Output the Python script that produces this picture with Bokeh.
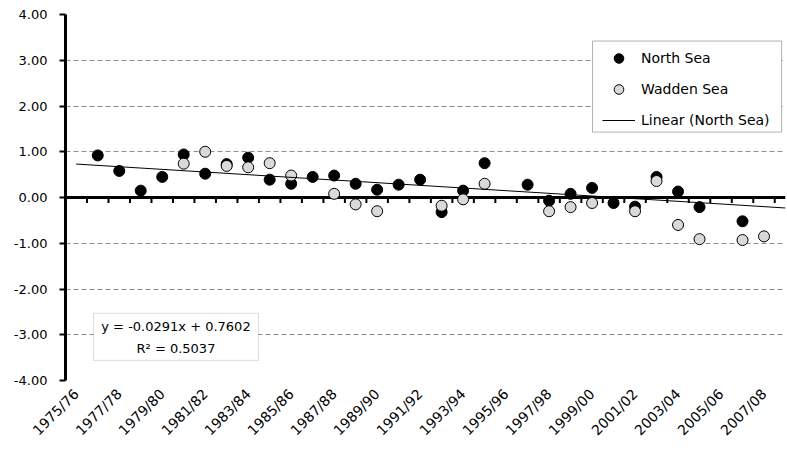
import math
import numpy as np
from bokeh.plotting import figure
from bokeh.models import (Range1d, FixedTicker, NumeralTickFormatter, Span, Legend,
                          LegendItem, BoxAnnotation, Label)
from bokeh.embed import file_html
from bokeh.resources import INLINE

nan = float("nan")

seasons = ["1975/76", "1976/77", "1977/78", "1978/79", "1979/80", "1980/81", "1981/82",
           "1982/83", "1983/84", "1984/85", "1985/86", "1986/87", "1987/88", "1988/89",
           "1989/90", "1990/91", "1991/92", "1992/93", "1993/94", "1994/95", "1995/96",
           "1996/97", "1997/98", "1998/99", "1999/00", "2000/01", "2001/02", "2002/03",
           "2003/04", "2004/05", "2005/06", "2006/07", "2007/08", "2008/09"]

north_sea = [nan, 0.92, 0.58, 0.15, 0.45, 0.94, 0.52, 0.73, 0.87, 0.39, 0.30, 0.45,
             0.48, 0.30, 0.17, 0.28, 0.39, -0.32, 0.15, 0.75, nan, 0.28, -0.07, 0.08,
             0.21, -0.12, -0.20, 0.45, 0.13, -0.21, nan, -0.52, nan, nan]

wadden_sea = [nan, nan, nan, nan, nan, 0.74, 1.00, 0.69, 0.66, 0.75, 0.48, nan,
              0.08, -0.15, -0.30, nan, nan, -0.18, -0.04, 0.30, nan, nan, -0.30, -0.21,
              -0.12, nan, -0.30, 0.36, -0.60, -0.91, nan, -0.93, -0.85, nan]

trend_slope = -0.0291
trend_intercept = 0.7602
r_squared = 0.5037

y_ticks = [-4, -3, -2, -1, 0, 1, 2, 3, 4]

FONT = "DejaVu Sans"

x = list(range(1, len(seasons) + 1))

p = figure(frame_width=720, frame_height=366, output_backend="svg", toolbar_location=None,
           x_range=Range1d(0.5, 34.0), y_range=Range1d(-4, 4),
           min_border_left=65, min_border_top=14, min_border_right=2, min_border_bottom=10)
p.outline_line_color = None
p.background_fill_color = "white"

# y axis
p.yaxis.ticker = FixedTicker(ticks=y_ticks)
p.yaxis.formatter = NumeralTickFormatter(format="0.00")
p.yaxis.axis_line_width = 3
p.yaxis.axis_line_color = "black"
p.yaxis.major_tick_out = 6
p.yaxis.major_tick_in = 0
p.yaxis.major_tick_line_width = 2
p.yaxis.major_tick_line_color = "black"
p.yaxis.minor_tick_line_color = None
p.yaxis.major_label_standoff = 12
p.yaxis.major_label_text_font = FONT
p.yaxis.major_label_text_font_size = "13px"
p.yaxis.major_label_text_color = "black"

p.ygrid.ticker = FixedTicker(ticks=y_ticks)
p.ygrid.grid_line_color = "#8c8c8c"
p.ygrid.grid_line_dash = "5 3"
p.ygrid.grid_line_width = 1
p.xgrid.grid_line_color = None

# x axis (labels only, at the bottom)
p.xaxis.ticker = FixedTicker(ticks=x[::2])
p.xaxis.major_label_overrides = {xi: s for xi, s in zip(x[::2], seasons[::2])}
p.xaxis.major_label_orientation = math.pi / 4
p.xaxis.axis_line_color = None
p.xaxis.major_tick_line_color = None
p.xaxis.minor_tick_line_color = None
p.xaxis.major_label_standoff = 5
p.xaxis.major_label_text_font = FONT
p.xaxis.major_label_text_font_size = "14px"
p.xaxis.major_label_text_color = "black"

# category axis crossing at zero
p.add_layout(Span(location=0, dimension="width", line_color="black", line_width=3,
                  level="underlay"))
boundaries = [xi + 0.5 for xi in x[:-1]]
p.segment(x0=boundaries, y0=[0] * len(boundaries), x1=boundaries,
          y1=[-0.12] * len(boundaries), line_color="black", line_width=2)

ns = p.scatter(x, np.array(north_sea, dtype=float), size=11, fill_color="black",
               line_color="black")
ws = p.scatter(x, np.array(wadden_sea, dtype=float), size=11, fill_color="#d9d9d9",
               line_color="black", line_width=1)
tx = [x[0], x[-1]]
ty = [trend_intercept + trend_slope * v for v in tx]
tl = p.line(tx, ty, line_color="black", line_width=1)

# legend frame
p.add_layout(BoxAnnotation(left=25.02, right=33.82, top=3.42, bottom=1.43,
                           fill_color="white", fill_alpha=1, line_color="black",
                           line_width=1))
legend = Legend(items=[LegendItem(label="North Sea", renderers=[ns]),
                       LegendItem(label="Wadden Sea", renderers=[ws]),
                       LegendItem(label="Linear (North Sea)", renderers=[tl])],
                location=(537, 248), padding=0, spacing=7, glyph_width=33,
                glyph_height=24, label_height=24, label_standoff=6,
                border_line_color=None, background_fill_alpha=0,
                label_text_font=FONT, label_text_font_size="14px",
                label_text_color="black")
p.add_layout(legend)

# equation box
p.add_layout(BoxAnnotation(left=1.80, right=9.48, top=-2.53, bottom=-3.56,
                           fill_color="white", fill_alpha=1, line_color="#8c8c8c",
                           line_width=1))
cx = (1.80 + 9.48) / 2
p.add_layout(Label(x=cx, y=-2.83, text=f"y = {trend_slope:.4f}x + {trend_intercept:.4f}",
                   text_align="center", text_baseline="middle", text_font=FONT,
                   text_font_size="13px", text_color="black"))
p.add_layout(Label(x=cx, y=-3.29, text=f"R\u00b2 = {r_squared:.4f}",
                   text_align="center", text_baseline="middle", text_font=FONT,
                   text_font_size="13px", text_color="black"))

open("out.html", "w").write(file_html(p, INLINE))
